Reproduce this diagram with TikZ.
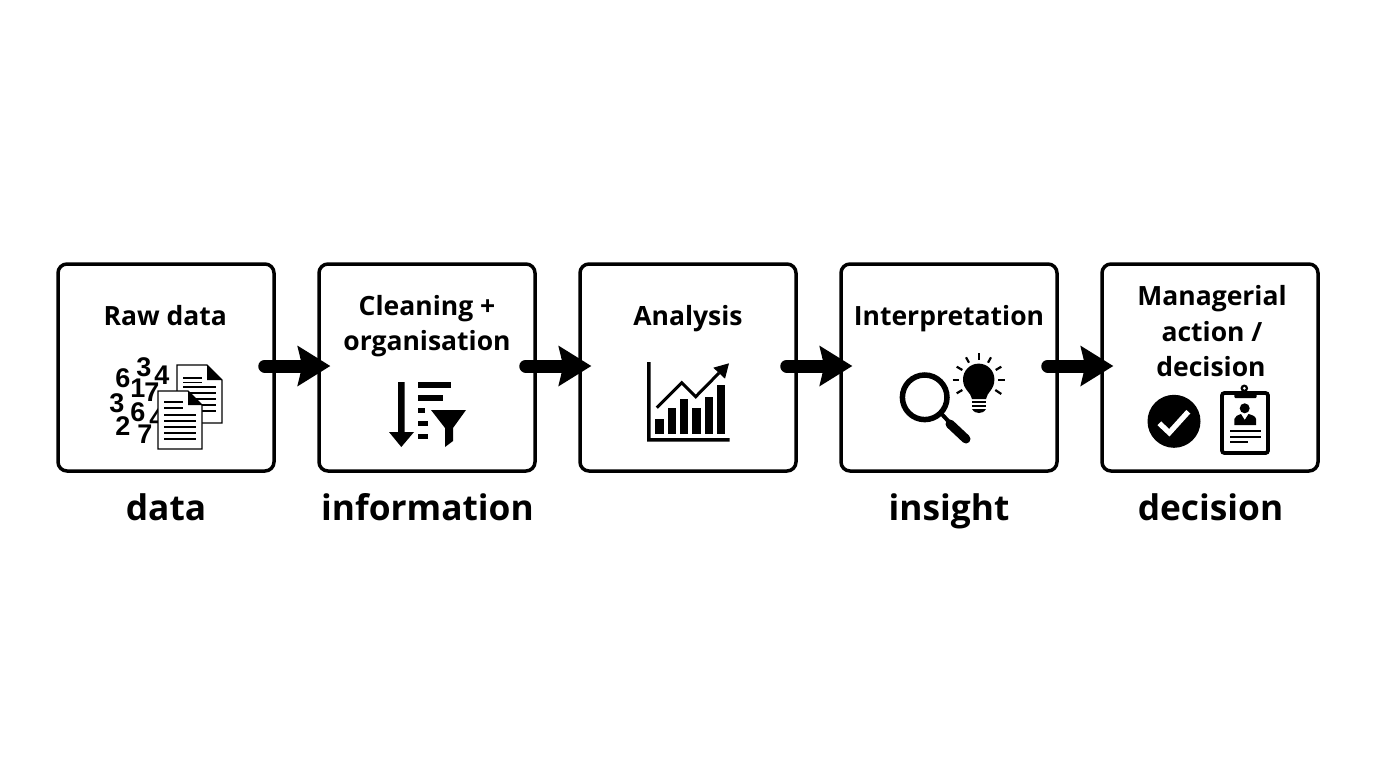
\documentclass[tikz,border=0pt]{standalone}
\usepackage{fontspec}
\setmainfont{Open Sans}
\newfontfamily\digitfont{Liberation Sans}
\usetikzlibrary{arrows.meta,calc}
\tikzset{
  stage/.style={draw=black,line width=3.5pt,rounded corners=9pt,minimum width=216pt,minimum height=207pt,fill=white,inner sep=0pt},
  boxtext/.style={anchor=base,align=center,inner sep=0pt,font=\fontsize{26.5}{35.7}\selectfont\bfseries},
  outcome/.style={anchor=base,inner sep=0pt,font=\fontsize{35.3}{44}\selectfont\bfseries},
  flow/.style={line width=13pt,line cap=round,-{Stealth[length=33pt,width=41pt,inset=5pt,line width=0pt]}},
  digit/.style={inner sep=0pt,font=\fontsize{27}{27}\selectfont\digitfont\bfseries},
  docsheet/.style={draw=black,fill=white,line width=1.3pt,line join=miter},
  docline/.style={line width=1.7pt},
  ray/.style={line width=2.2pt,line cap=butt},
}
\begin{document}
\begin{tikzpicture}[x=1pt,y=-1pt]
\useasboundingbox (0,0) rectangle (1376,768);
\fill[white] (0,0) rectangle (1376,768);
% boxes
\node[stage] (b1) at (166,367.5) {};
\node[stage] (b2) at (427,367.5) {};
\node[stage] (b3) at (688,367.5) {};
\node[stage] (b4) at (949,367.5) {};
\node[stage] (b5) at (1210,367.5) {};
% arrows
\draw[flow] ($(b1.east)+(-11,-1.5)$) -- ($(b2.west)+(13,-1.5)$);
\draw[flow] ($(b2.east)+(-11,-1.5)$) -- ($(b3.west)+(13,-1.5)$);
\draw[flow] ($(b3.east)+(-11,-1.5)$) -- ($(b4.west)+(13,-1.5)$);
\draw[flow] ($(b4.east)+(-11,-1.5)$) -- ($(b5.west)+(13,-1.5)$);
% box labels
\node[boxtext] (t1) at (165.3,325) {Raw data};
\node[boxtext] (t2a) at (427,315) {Cleaning +};
\node[boxtext] (t2b) at (427,350) {organisation};
\node[boxtext] (t3) at (688,325) {Analysis};
\node[boxtext] (t4) at (949,325) {Interpretation};
\node[boxtext] (t5a) at (1212,305) {Managerial};
\node[boxtext] (t5b) at (1212,341) {action /};
\node[boxtext] (t5c) at (1211,376) {decision};
% outcome labels
\node[outcome] (o1) at (166,520.5) {data};
\node[outcome] (o2) at (427.5,520.5) {information};
\node[outcome] (o4) at (949,520.5) {insight};
\node[outcome] (o5) at (1210.5,520.5) {decision};
% --- raw data icon
\foreach \px/\py/\d [count=\i] in {123/378/6,144/367/3,162/375/4,138/388/1,152/392/7,117/403/3,138/412/6,123/426/2,145/434/7,157/418/4}
  \node[digit] (dg\i) at (\px,\py) {\d};
\draw[docsheet] (177,365) -- (207,365) -- (222,380) -- (222,423) -- (177,423) -- cycle;
\fill (207,365) -- (222,380) -- (207,380) -- cycle;
\foreach \ly in {378,382.5} \draw[docline] (183,\ly) -- (202,\ly);
\foreach \ly in {387,393,399,405,411} \draw[docline] (183,\ly) -- (216,\ly);
\draw[docsheet] (158,391) -- (188,391) -- (202,405) -- (202,449) -- (158,449) -- cycle;
\fill (188,391) -- (202,405) -- (188,405) -- cycle;
\foreach \ly in {402,408} \draw[docline] (164,\ly) -- (183,\ly);
\foreach \ly in {415,421,427,433,439} \draw[docline] (164,\ly) -- (196,\ly);
% --- sort and filter icon
\fill (398,382) -- (404.7,382) -- (404.7,432) -- (414,432) -- (401.3,447) -- (389,432) -- (398,432) -- cycle;
\fill (418,382) rectangle (451,388);
\fill (418,395) rectangle (443,400.5);
\fill (418,408) rectangle (425,413);
\fill (418,421) rectangle (428,426);
\fill (418,434) rectangle (428,439);
\fill (431,410) -- (466,410) -- (453,428) -- (453,441) -- (445,447) -- (445,428) -- cycle;
% --- chart icon
\fill (647,362) -- (650.5,362) -- (650.5,438) -- (729.7,438) -- (729.7,441.7) -- (647,441.7) -- cycle;
\foreach \bl/\br/\bt in {655.3/663.7/419,667.7/676/408,680/688.3/399.3,692.3/700.7/408,704.7/713/397,717/725.3/385.3}
  \fill (\bl,\bt) rectangle (\br,433.7);
\draw[line width=3pt] (656.7,407.7) -- (681.7,382.7) -- (695.7,396.7) -- (719,373);
\fill (729,363.3) -- (713.3,367.7) -- (725,378.7) -- cycle;
% --- magnifier and bulb icon
\draw[line width=5.5pt] (924.7,397.3) circle[radius=22.3];
\draw[line width=4pt] (941.7,414) -- (950,423);
\draw[line width=9pt,line cap=round] (950,424) -- (966,439);
\fill (972,399) .. controls (971,392) and (963,390) .. (963,379.3) arc[start angle=180,end angle=360,radius=15.7] .. controls (994.4,390) and (987,392) .. (986,399) -- cycle;
\fill (971.5,401) rectangle (986,403);
\fill (971.5,405) rectangle (986,407);
\fill (972,409) -- (986,409) .. controls (984,412) and (982,413) .. (979,413) .. controls (976,413) and (974,412) .. (972,409) -- cycle;
\draw[ray] (978.7,353.3) -- (978.7,360);
\draw[ray] (966,357.3) -- (969,362.7);
\draw[ray] (991,357.3) -- (988,362.7);
\draw[ray] (956.7,366.7) -- (962.3,370);
\draw[ray] (1001.3,366.7) -- (995.7,370);
\draw[ray] (952.7,380) -- (959.3,380);
\draw[ray] (998,380) -- (1005,380);
\draw[ray] (956.7,393.3) -- (962.3,390);
\draw[ray] (1001.3,394) -- (995.3,390);
% --- check and clipboard icon
\fill (1174,421.3) circle[radius=26.5];
\draw[white,line width=5.3pt] (1159.3,423.3) -- (1169.3,432.7) -- (1188.3,411.7);
\draw[line width=3.8pt,rounded corners=2.5pt] (1222,393) rectangle (1268,453);
\fill (1244.3,388.3) circle[radius=3.8];
\fill[white] (1244.3,388.3) circle[radius=1.5];
\fill[rounded corners=1pt] (1234.3,391) rectangle (1256.7,398);
\fill (1244.7,408.3) circle[radius=5];
\fill (1234.3,425) -- (1234.3,419) .. controls (1235,416) and (1238,415) .. (1241,414) -- (1244.7,420) -- (1248.5,414) .. controls (1252,415) and (1255.5,416) .. (1256,419) -- (1256,425) -- cycle;
\draw[docline] (1230,431.3) -- (1260.7,431.3);
\draw[docline] (1230,436.7) -- (1260.7,436.7);
\draw[docline] (1230,442.3) -- (1248.3,442.3);
\end{tikzpicture}
\end{document}
